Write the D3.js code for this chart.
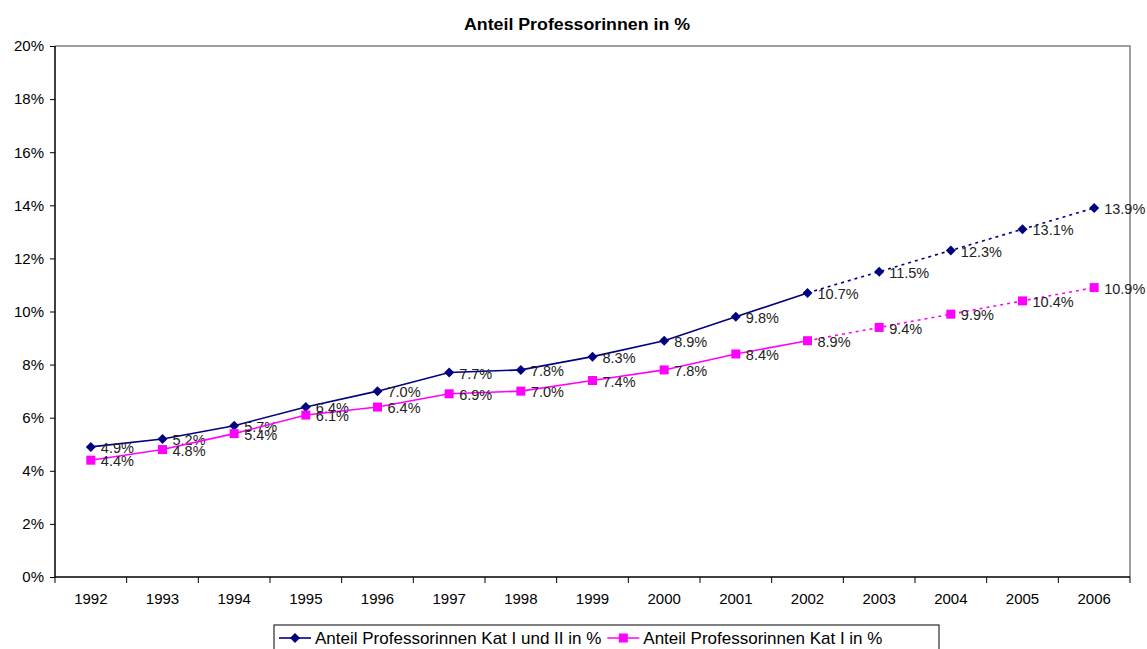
<!DOCTYPE html>
<html>
<head>
<meta charset="utf-8">
<script src="https://cdn.jsdelivr.net/npm/d3@7"></script>
<style>
  body { margin: 0; background: #fff; }
  text { font-family: "Liberation Sans", Arial, sans-serif; fill: #000; }
</style>
</head>
<body>
<svg id="chart" width="1147" height="649"></svg>
<script>
// chart data
const years = ["1992","1993","1994","1995","1996","1997","1998","1999","2000","2001","2002","2003","2004","2005","2006"];
const katIundII = [4.9, 5.2, 5.7, 6.4, 7.0, 7.7, 7.8, 8.3, 8.9, 9.8, 10.7, 11.5, 12.3, 13.1, 13.9];
const katI = [4.4, 4.8, 5.4, 6.1, 6.4, 6.9, 7.0, 7.4, 7.8, 8.4, 8.9, 9.4, 9.9, 10.4, 10.9];
const yTicks = [0, 2, 4, 6, 8, 10, 12, 14, 16, 18, 20];
const lastActual = "2002"; // dotted after this year

const seriesList = [
  {name: "Anteil Professorinnen Kat I und II in %", values: katIundII, color: "#000080", marker: "diamond"},
  {name: "Anteil Professorinnen Kat I in %", values: katI, color: "#FF00FF", marker: "square"}
];

const margin = {top: 46, right: 17, bottom: 72, left: 55},
  width = 1147 - margin.left - margin.right,
  height = 649 - margin.top - margin.bottom;

const svg = d3.select("#chart");

svg.append("text")
  .attr("x", 577)
  .attr("y", 30)
  .attr("text-anchor", "middle")
  .attr("textLength", 226)
  .attr("lengthAdjust", "spacingAndGlyphs")
  .style("font-size", "16px")
  .style("font-weight", "bold")
  .text("Anteil Professorinnen in %");

const g = svg.append("g")
  .attr("transform", "translate(" + margin.left + "," + margin.top + ")");

const x = d3.scaleBand().domain(years).range([0, width]);
const y = d3.scaleLinear().domain([0, 20]).range([height, 0]);

// plot border (top/right grey)
g.append("path")
  .attr("d", `M0,0H${width}V${height}`)
  .attr("fill", "none")
  .attr("stroke", "#808080")
  .attr("stroke-width", 1.5);

// y axis
const yAxis = g.append("g")
  .call(d3.axisLeft(y).tickValues(yTicks).tickSize(5).tickPadding(6).tickFormat(d => d + "%"));
yAxis.selectAll("text").style("font-size", "15px").style("font-family", "Liberation Sans, Arial, sans-serif");
yAxis.select(".domain").attr("d", `M0,0V${height}`).attr("stroke-width", 1.5);

// x axis, ticks between categories
const xAxis = g.append("g")
  .attr("transform", `translate(0,${height})`)
  .call(d3.axisBottom(x).tickSize(0).tickPadding(16));
xAxis.selectAll("text").style("font-size", "15px").style("font-family", "Liberation Sans, Arial, sans-serif");
xAxis.select(".domain").attr("d", `M0,0H${width}`).attr("stroke-width", 1.5);
xAxis.selectAll(".sep")
  .data(d3.range(years.length + 1))
  .join("line")
  .attr("class", "sep")
  .attr("x1", i => i * x.bandwidth())
  .attr("x2", i => i * x.bandwidth())
  .attr("y1", 0)
  .attr("y2", 6)
  .attr("stroke", "#000");

const cx = d => x(d) + x.bandwidth() / 2;
const cut = years.indexOf(lastActual);

function drawMarker(sel, kind, color) {
  if (kind === "diamond") {
    sel.append("path")
      .attr("d", "M0,-5L5,0L0,5L-5,0Z")
      .attr("fill", color);
  } else {
    sel.append("rect")
      .attr("x", -4.5).attr("y", -4.5)
      .attr("width", 9).attr("height", 9)
      .attr("fill", color);
  }
}

seriesList.forEach(s => {
  const pts = years.map((yr, i) => ({yr, v: s.values[i]}));
  const line = d3.line().x(d => cx(d.yr)).y(d => y(d.v));

  g.append("path")
    .datum(pts.slice(0, cut + 1))
    .attr("d", line)
    .attr("fill", "none")
    .attr("stroke", s.color)
    .attr("stroke-width", 1.6);

  g.append("path")
    .datum(pts.slice(cut))
    .attr("d", line)
    .attr("fill", "none")
    .attr("stroke", s.color)
    .attr("stroke-width", 1.6)
    .attr("stroke-dasharray", "3,4");

  const m = g.selectAll(null)
    .data(pts)
    .join("g")
    .attr("transform", d => `translate(${cx(d.yr)},${y(d.v)})`);
  drawMarker(m, s.marker, s.color);

  g.selectAll(null)
    .data(pts)
    .join("text")
    .attr("x", d => cx(d.yr) + 10)
    .attr("y", d => y(d.v) + 1)
    .attr("dy", "0.35em")
    .style("font-size", "14.5px")
    .style("fill", "#222")
    .text(d => d.v.toFixed(1) + "%");
});

// legend
const legend = svg.append("g").attr("transform", "translate(274,625)");
legend.append("rect")
  .attr("x", 0).attr("y", 0)
  .attr("width", 665).attr("height", 28)
  .attr("fill", "#fff")
  .attr("stroke", "#000");

let lx = 5;
seriesList.forEach(s => {
  const item = legend.append("g").attr("transform", `translate(${lx},13)`);
  item.append("line")
    .attr("x1", 0).attr("x2", 32)
    .attr("stroke", s.color).attr("stroke-width", 1.6);
  drawMarker(item.append("g").attr("transform", "translate(16,0)"), s.marker, s.color);
  const t = item.append("text")
    .attr("x", 36).attr("dy", "0.35em")
    .style("font-size", "17px")
    .text(s.name);
  lx += 36 + t.node().getComputedTextLength() + 6;
});
</script>
</body>
</html>
